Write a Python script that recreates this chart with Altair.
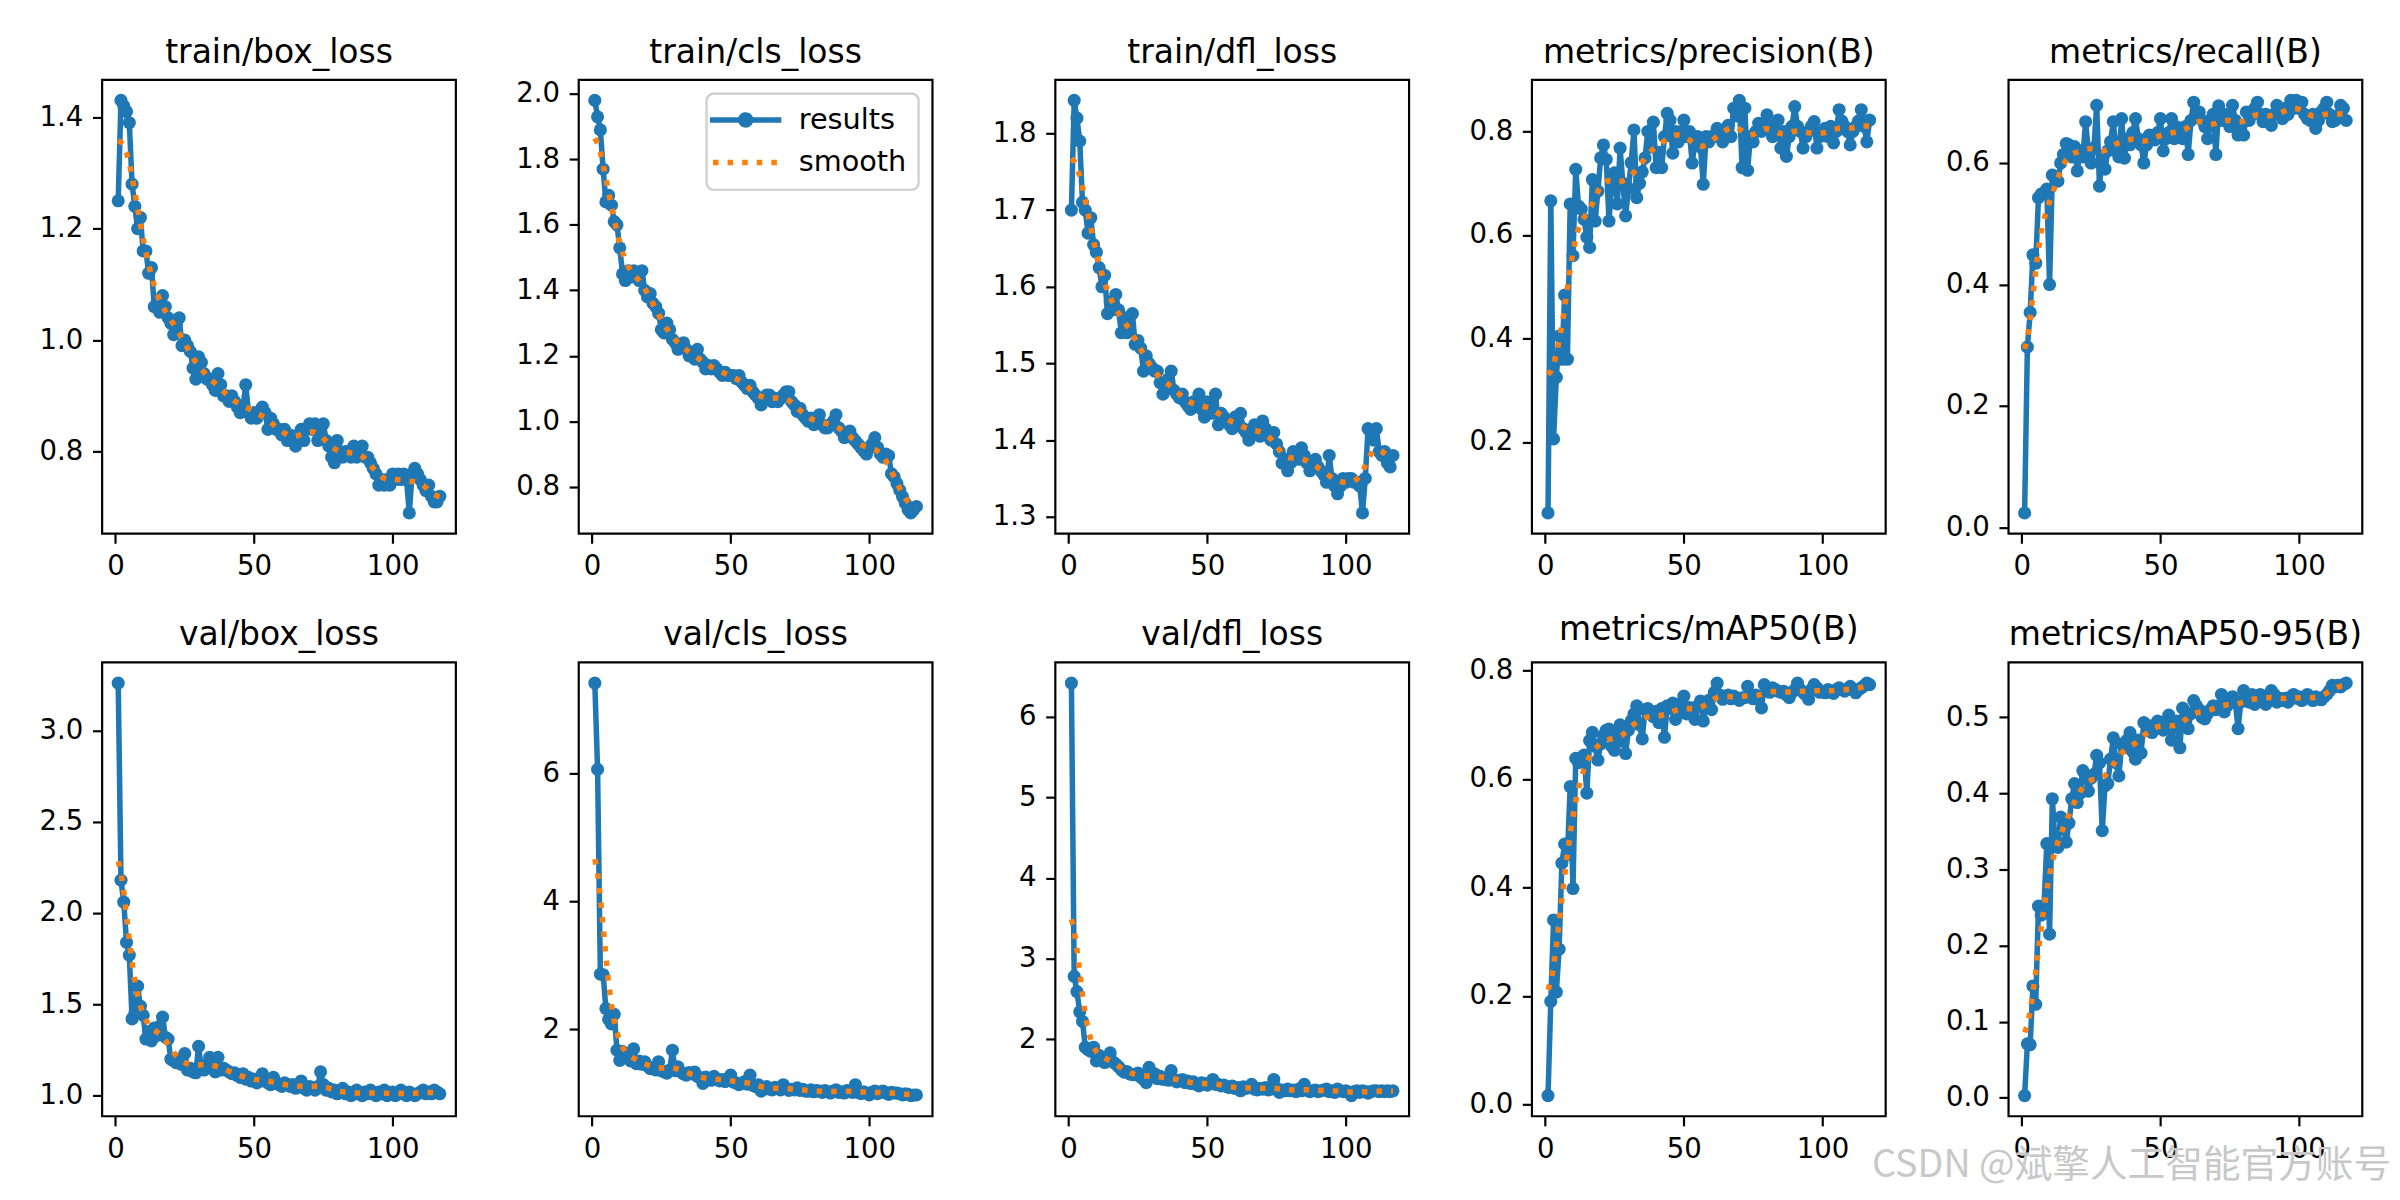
import altair as alt
import pandas as pd

EPOCHS = list(range(1, 118))

TITLES = ["train/box_loss", "train/cls_loss", "train/dfl_loss",
          "metrics/precision(B)", "metrics/recall(B)",
          "val/box_loss", "val/cls_loss", "val/dfl_loss",
          "metrics/mAP50(B)", "metrics/mAP50-95(B)"]

train_box_loss = [
    1.25, 1.43, 1.42, 1.41, 1.39, 1.28, 1.24, 1.20, 1.22, 1.16,
    1.16, 1.12, 1.13, 1.06, 1.06, 1.05, 1.08, 1.06, 1.04, 1.03,
    1.01, 1.03, 1.04, 0.99, 1.00, 0.99, 0.98, 0.95, 0.93, 0.97,
    0.96, 0.94, 0.93, 0.93, 0.92, 0.91, 0.94, 0.92, 0.90, 0.90,
    0.89, 0.90, 0.89, 0.88, 0.87, 0.88, 0.92, 0.87, 0.86, 0.87,
    0.86, 0.87, 0.88, 0.87, 0.84, 0.86, 0.85, 0.84, 0.84, 0.83,
    0.84, 0.82, 0.83, 0.82, 0.81, 0.83, 0.84, 0.82, 0.84, 0.85,
    0.84, 0.85, 0.82, 0.83, 0.85, 0.82, 0.81, 0.79, 0.78, 0.82,
    0.80, 0.79, 0.80, 0.80, 0.79, 0.81, 0.79, 0.80, 0.81, 0.79,
    0.79, 0.78, 0.77, 0.76, 0.74, 0.75, 0.74, 0.75, 0.74, 0.76,
    0.75, 0.76, 0.75, 0.76, 0.75, 0.69, 0.76, 0.77, 0.76, 0.75,
    0.74, 0.73, 0.74, 0.72, 0.71, 0.71, 0.72]

train_cls_loss = [
    1.98, 1.93, 1.89, 1.77, 1.67, 1.69, 1.66, 1.61, 1.60, 1.53,
    1.45, 1.43, 1.46, 1.44, 1.46, 1.45, 1.43, 1.46, 1.40, 1.38,
    1.39, 1.36, 1.35, 1.33, 1.28, 1.27, 1.30, 1.28, 1.25, 1.24,
    1.22, 1.23, 1.24, 1.22, 1.20, 1.20, 1.19, 1.22, 1.19, 1.18,
    1.16, 1.17, 1.16, 1.17, 1.16, 1.15, 1.14, 1.15, 1.14, 1.14,
    1.14, 1.13, 1.14, 1.12, 1.11, 1.10, 1.11, 1.09, 1.08, 1.07,
    1.05, 1.07, 1.08, 1.08, 1.06, 1.07, 1.06, 1.07, 1.08, 1.09,
    1.09, 1.06, 1.05, 1.03, 1.04, 1.02, 1.01, 1.00, 1.01, 0.99,
    1.00, 1.02, 0.99, 0.98, 0.98, 0.99, 1.00, 1.02, 0.98, 0.97,
    0.95, 0.96, 0.97, 0.95, 0.94, 0.93, 0.92, 0.91, 0.90, 0.92,
    0.93, 0.95, 0.92, 0.90, 0.89, 0.90, 0.895, 0.84, 0.83, 0.81,
    0.79, 0.77, 0.75, 0.73, 0.72, 0.73, 0.74]

train_dfl_loss = [
    1.70, 1.843, 1.82, 1.79, 1.71, 1.70, 1.67, 1.69, 1.655, 1.645,
    1.625, 1.60, 1.615, 1.565, 1.58, 1.57, 1.59, 1.57, 1.54, 1.56,
    1.54, 1.545, 1.565, 1.525, 1.53, 1.52, 1.49, 1.51, 1.50, 1.495,
    1.49, 1.49, 1.475, 1.46, 1.47, 1.48, 1.49, 1.465, 1.46, 1.455,
    1.46, 1.45, 1.445, 1.44, 1.45, 1.445, 1.46, 1.44, 1.43, 1.45,
    1.445, 1.435, 1.46, 1.42, 1.435, 1.43, 1.425, 1.42, 1.415, 1.43,
    1.42, 1.435, 1.415, 1.41, 1.40, 1.41, 1.42, 1.41, 1.405, 1.425,
    1.415, 1.405, 1.40, 1.41, 1.395, 1.385, 1.37, 1.375, 1.36, 1.37,
    1.385, 1.38, 1.375, 1.39, 1.38, 1.37, 1.36, 1.37, 1.375, 1.365,
    1.36, 1.355, 1.345, 1.38, 1.35, 1.34, 1.33, 1.34, 1.35, 1.345,
    1.35, 1.35, 1.345, 1.345, 1.34, 1.305, 1.35, 1.415, 1.41, 1.40,
    1.415, 1.385, 1.38, 1.385, 1.37, 1.365, 1.38]

precision = [
    0.063, 0.666, 0.206, 0.325, 0.405, 0.36, 0.484, 0.36, 0.66, 0.56,
    0.727, 0.656, 0.65, 0.63, 0.596, 0.576, 0.707, 0.627, 0.685, 0.749,
    0.774, 0.746, 0.627, 0.70, 0.72, 0.66, 0.768, 0.70, 0.637, 0.69,
    0.74, 0.803, 0.672, 0.70, 0.722, 0.749, 0.80, 0.77, 0.818, 0.73,
    0.76, 0.73, 0.79, 0.835, 0.822, 0.758, 0.80, 0.78, 0.80, 0.822,
    0.79, 0.80, 0.739, 0.78, 0.79, 0.77, 0.698, 0.79, 0.78, 0.79,
    0.79, 0.806, 0.79, 0.78, 0.80, 0.812, 0.79, 0.845, 0.83, 0.86,
    0.73, 0.845, 0.725, 0.79, 0.78, 0.80, 0.816, 0.80, 0.81, 0.832,
    0.81, 0.79, 0.80, 0.822, 0.768, 0.80, 0.752, 0.79, 0.81, 0.848,
    0.81, 0.80, 0.768, 0.79, 0.80, 0.81, 0.819, 0.768, 0.79, 0.80,
    0.806, 0.79, 0.81, 0.778, 0.80, 0.842, 0.82, 0.81, 0.80, 0.774,
    0.80, 0.81, 0.82, 0.842, 0.81, 0.78, 0.822]

recall = [
    0.024, 0.297, 0.354, 0.449, 0.435, 0.543, 0.549, 0.551, 0.557, 0.40,
    0.58, 0.575, 0.57, 0.60, 0.614, 0.632, 0.63, 0.61, 0.627, 0.587,
    0.62, 0.61, 0.668, 0.62, 0.60, 0.625, 0.695, 0.562, 0.61, 0.59,
    0.62, 0.635, 0.668, 0.62, 0.61, 0.673, 0.608, 0.64, 0.63, 0.65,
    0.673, 0.64, 0.63, 0.60, 0.63, 0.646, 0.64, 0.638, 0.65, 0.673,
    0.62, 0.64, 0.65, 0.673, 0.64, 0.659, 0.65, 0.64, 0.66, 0.614,
    0.67, 0.70, 0.68, 0.684, 0.67, 0.66, 0.64, 0.67, 0.68, 0.614,
    0.694, 0.67, 0.68, 0.673, 0.66, 0.695, 0.67, 0.646, 0.66, 0.646,
    0.684, 0.67, 0.68, 0.69, 0.70, 0.68, 0.668, 0.68, 0.67, 0.662,
    0.68, 0.695, 0.68, 0.673, 0.69, 0.68, 0.703, 0.69, 0.703, 0.69,
    0.70, 0.68, 0.673, 0.67, 0.68, 0.657, 0.67, 0.684, 0.69, 0.70,
    0.68, 0.668, 0.67, 0.678, 0.695, 0.69, 0.67]

val_box_loss = [
    3.26, 2.18, 2.06, 1.84, 1.77, 1.42, 1.45, 1.60, 1.49, 1.44,
    1.31, 1.35, 1.30, 1.37, 1.33, 1.38, 1.43, 1.32, 1.31, 1.20,
    1.19, 1.18, 1.20, 1.17, 1.23, 1.14, 1.15, 1.13, 1.125, 1.27,
    1.15, 1.14, 1.17, 1.21, 1.16, 1.13, 1.21, 1.14, 1.15, 1.14,
    1.13, 1.12, 1.125, 1.11, 1.10, 1.12, 1.09, 1.10, 1.08, 1.09,
    1.07, 1.08, 1.12, 1.08, 1.07, 1.06, 1.10, 1.07, 1.06, 1.05,
    1.07, 1.06, 1.05, 1.06, 1.04, 1.05, 1.08, 1.04, 1.03, 1.05,
    1.04, 1.03, 1.05, 1.13, 1.06, 1.03, 1.04, 1.02, 1.03, 1.01,
    1.02, 1.04, 1.01, 1.02, 1.00, 1.01, 1.03, 1.01, 1.00, 1.02,
    1.01, 1.03, 1.01, 1.00, 1.02, 1.01, 1.03, 1.00, 1.01, 1.02,
    1.00, 1.01, 1.03, 1.01, 1.00, 1.02, 1.01, 1.00, 1.01, 1.02,
    1.03, 1.01, 1.02, 1.01, 1.03, 1.02, 1.01]

val_cls_loss = [
    7.41, 6.06, 2.86, 2.85, 2.32, 2.15, 2.08, 2.23, 1.67, 1.51,
    1.65, 1.59, 1.55, 1.50, 1.69, 1.46, 1.50, 1.45, 1.49, 1.42,
    1.38, 1.40, 1.36, 1.49, 1.35, 1.33, 1.31, 1.36, 1.67, 1.35,
    1.41, 1.33, 1.30, 1.28, 1.32, 1.30, 1.33, 1.26, 1.24, 1.15,
    1.25, 1.22, 1.20, 1.26, 1.22, 1.19, 1.21, 1.18, 1.20, 1.28,
    1.17, 1.16, 1.13, 1.15, 1.18, 1.14, 1.28, 1.12, 1.10, 1.13,
    1.03, 1.08, 1.10, 1.06, 1.05, 1.09, 1.07, 1.05, 1.13, 1.07,
    1.04, 1.06, 1.05, 1.08, 1.04, 1.06, 1.03, 1.03, 1.05, 1.02,
    1.04, 1.03, 1.01, 1.04, 1.02, 1.00, 1.03, 1.05, 1.01, 1.02,
    1.00, 1.04, 1.02, 1.01, 1.13, 1.01, 0.99, 1.02, 1.00, 0.97,
    1.01, 1.03, 0.99, 1.02, 1.03, 1.00, 0.98, 1.01, 1.00, 1.00,
    0.99, 0.97, 0.99, 0.98, 0.96, 0.97, 0.97]

val_dfl_loss = [
    6.42, 2.78, 2.59, 2.34, 2.22, 1.90, 1.87, 1.85, 1.90, 1.73,
    1.80, 1.76, 1.71, 1.76, 1.83, 1.72, 1.69, 1.66, 1.62, 1.59,
    1.60, 1.57, 1.56, 1.56, 1.58, 1.53, 1.50, 1.46, 1.65, 1.55,
    1.57, 1.51, 1.54, 1.50, 1.52, 1.49, 1.61, 1.50, 1.47, 1.49,
    1.50, 1.46, 1.48, 1.45, 1.47, 1.44, 1.42, 1.46, 1.45, 1.43,
    1.45, 1.50, 1.44, 1.44, 1.42, 1.43, 1.41, 1.40, 1.42, 1.39,
    1.40, 1.36, 1.41, 1.39, 1.40, 1.44, 1.38, 1.37, 1.39, 1.38,
    1.40, 1.37, 1.38, 1.50, 1.39, 1.34, 1.37, 1.36, 1.38, 1.36,
    1.37, 1.35, 1.38, 1.36, 1.44, 1.37, 1.35, 1.36, 1.37, 1.35,
    1.36, 1.37, 1.38, 1.35, 1.36, 1.34, 1.38, 1.36, 1.35, 1.36,
    1.34, 1.30, 1.35, 1.36, 1.34, 1.36, 1.35, 1.33, 1.35, 1.36,
    1.36, 1.35, 1.36, 1.35, 1.36, 1.35, 1.36]

map50 = [
    0.016, 0.19, 0.34, 0.207, 0.286, 0.445, 0.48, 0.46, 0.586, 0.398,
    0.638, 0.63, 0.64, 0.644, 0.574, 0.671, 0.686, 0.66, 0.635, 0.665,
    0.68, 0.69, 0.692, 0.66, 0.653, 0.68, 0.70, 0.67, 0.647, 0.69,
    0.707, 0.72, 0.735, 0.70, 0.674, 0.728, 0.73, 0.72, 0.715, 0.725,
    0.704, 0.73, 0.677, 0.735, 0.73, 0.74, 0.71, 0.72, 0.74, 0.753,
    0.72, 0.732, 0.73, 0.71, 0.735, 0.744, 0.707, 0.74, 0.745, 0.728,
    0.76, 0.777, 0.755, 0.747, 0.75, 0.755, 0.748, 0.753, 0.75, 0.745,
    0.75, 0.75, 0.771, 0.755, 0.748, 0.755, 0.75, 0.731, 0.774, 0.765,
    0.76, 0.768, 0.765, 0.762, 0.76, 0.762, 0.755, 0.75, 0.76, 0.765,
    0.777, 0.765, 0.76, 0.755, 0.747, 0.765, 0.774, 0.768, 0.76, 0.762,
    0.759, 0.765, 0.76, 0.758, 0.765, 0.768, 0.765, 0.762, 0.765, 0.771,
    0.765, 0.759, 0.765, 0.768, 0.772, 0.777, 0.774]

map50_95 = [
    0.003, 0.071, 0.07, 0.147, 0.123, 0.252, 0.24, 0.252, 0.334, 0.215,
    0.393, 0.334, 0.329, 0.369, 0.355, 0.336, 0.361, 0.393, 0.413, 0.388,
    0.40, 0.43, 0.42, 0.403, 0.42, 0.425, 0.45, 0.44, 0.351, 0.41,
    0.413, 0.445, 0.473, 0.44, 0.423, 0.465, 0.46, 0.47, 0.48, 0.455,
    0.445, 0.47, 0.453, 0.493, 0.49, 0.485, 0.48, 0.49, 0.495, 0.488,
    0.483, 0.495, 0.503, 0.47, 0.49, 0.495, 0.46, 0.512, 0.50, 0.485,
    0.505, 0.522, 0.515, 0.51, 0.50, 0.498, 0.505, 0.51, 0.515, 0.51,
    0.515, 0.53, 0.507, 0.515, 0.52, 0.527, 0.52, 0.485, 0.52, 0.535,
    0.525, 0.52, 0.53, 0.517, 0.525, 0.53, 0.525, 0.517, 0.528, 0.535,
    0.53, 0.52, 0.525, 0.522, 0.525, 0.52, 0.527, 0.53, 0.525, 0.527,
    0.522, 0.525, 0.53, 0.525, 0.522, 0.527, 0.525, 0.523, 0.527, 0.53,
    0.535, 0.542, 0.54, 0.542, 0.54, 0.543, 0.545]

SERIES = [train_box_loss, train_cls_loss, train_dfl_loss, precision, recall,
          val_box_loss, val_cls_loss, val_dfl_loss, map50, map50_95]

Y_TICKS = [
    [0.8, 1.0, 1.2, 1.4],
    [0.8, 1.0, 1.2, 1.4, 1.6, 1.8, 2.0],
    [1.3, 1.4, 1.5, 1.6, 1.7, 1.8],
    [0.2, 0.4, 0.6, 0.8],
    [0.0, 0.2, 0.4, 0.6],
    [1.0, 1.5, 2.0, 2.5, 3.0],
    [2, 4, 6],
    [2, 3, 4, 5, 6],
    [0.0, 0.2, 0.4, 0.6, 0.8],
    [0.0, 0.1, 0.2, 0.3, 0.4, 0.5],
]
Y_FORMATS = [".1f", ".1f", ".1f", ".1f", ".1f", ".1f", "d", "d", ".1f", ".1f"]
X_TICKS = [0, 50, 100]
LEGEND_LABELS = ["results", "smooth"]
WATERMARK = "CSDN @斌擎人工智能官方账号"

BLUE = "#1f77b4"
ORANGE = "#ff7f0e"
LW = 5.56
DOTS = [5.56, 9.17]
N = len(EPOCHS)

# legend handles (symbol size 400 -> 10 px per path unit):
# a line with a dot in its middle, and a plain line (dotted by strokeDash)
P_RESULTS = ("M-2.3,0H4.9"
             "M1.8,0A0.5,0.5,0,1,1,0.8,0A0.5,0.5,0,1,1,1.8,0"
             "M1.45,0A0.15,0.15,0,1,1,1.15,0A0.15,0.15,0,1,1,1.45,0")
P_SMOOTH = "M-2.0,0H4.9"

for s in SERIES:
    assert len(s) == N, len(s)


def panel(title, values, ticks, fmt, with_legend=False):
    df = pd.DataFrame({"epoch": EPOCHS, "value": values})
    lo, hi = min(values), max(values)
    pad = 0.05 * (hi - lo)
    yscale = alt.Scale(domain=[lo - pad, hi + pad], nice=False, zero=False)
    xpad = 0.05 * (EPOCHS[-1] - EPOCHS[0])
    xscale = alt.Scale(domain=[EPOCHS[0] - xpad, EPOCHS[-1] + xpad], nice=False, zero=False)
    xaxis = alt.Axis(values=X_TICKS, format="d", title=None)
    yaxis = alt.Axis(values=ticks, format=fmt, title=None)
    x = alt.X("epoch:Q", scale=xscale, axis=xaxis)

    base = alt.Chart(df)
    line = base.mark_line(color=BLUE, strokeWidth=LW, strokeJoin="round").encode(
        x=x, y=alt.Y("value:Q", scale=yscale, axis=yaxis))
    pts = base.mark_circle(color=BLUE, size=175, opacity=1).encode(
        x=x, y=alt.Y("value:Q", scale=yscale, axis=yaxis))

    # smooth curve: gaussian filter (sigma 3, reflect at edges) done by Vega transforms
    lookup_src = alt.InlineData(values=df.to_dict("records"))
    last = EPOCHS[-1]
    smooth = (
        base.transform_calculate(offs="sequence(-12, 13)")
        .transform_flatten(["offs"])
        .transform_calculate(
            k="datum.epoch + datum.offs",
            w="exp(-datum.offs * datum.offs / 18)")
        .transform_calculate(
            j=f"datum.k < 1 ? 1 - datum.k : (datum.k > {last} ? {2 * last + 1} - datum.k : datum.k)")
        .transform_lookup(lookup="j",
                          from_=alt.LookupData(data=lookup_src, key="epoch", fields=["value"]),
                          as_=["nv"])
        .transform_calculate(wv="datum.w * datum.nv")
        .transform_aggregate(sw="sum(w)", swv="sum(wv)", groupby=["epoch"])
        .transform_calculate(smooth="datum.swv / datum.sw")
        .mark_line(color=ORANGE, strokeWidth=LW, strokeDash=DOTS, strokeCap="butt")
        .encode(x=x, y=alt.Y("smooth:Q", scale=yscale, axis=yaxis))
    )
    layers = [line, pts, smooth]
    if with_legend:
        leg = alt.Legend(title=None, orient="top-right", offset=14, padding=12,
                         strokeColor="#cccccc", fillColor="rgba(255,255,255,0.8)",
                         cornerRadius=7, labelFont="DejaVu Sans", labelFontSize=29,
                         labelColor="black", labelOffset=52, symbolSize=400,
                         symbolStrokeWidth=LW, rowPadding=12)
        legend_layer = (
            base.transform_filter("false")
            .transform_calculate(series="'results'")
            .mark_point(filled=False, size=400, strokeWidth=LW, opacity=1)
            .encode(
                x=x, y=alt.Y("value:Q", scale=yscale, axis=yaxis),
                color=alt.Color("series:N", scale=alt.Scale(domain=LEGEND_LABELS, range=[BLUE, ORANGE]), legend=leg),
                shape=alt.Shape("series:N", scale=alt.Scale(domain=LEGEND_LABELS, range=[P_RESULTS, P_SMOOTH]), legend=leg),
                strokeDash=alt.StrokeDash("series:N", scale=alt.Scale(domain=LEGEND_LABELS, range=[[1, 0], DOTS]), legend=leg),
            )
        )
        layers.append(legend_layer)
    return alt.layer(*layers).properties(width=357, height=458, title=title)


panels = [panel(TITLES[i], SERIES[i], Y_TICKS[i], Y_FORMATS[i], with_legend=(i == 1))
          for i in range(10)]

INDEP = dict(color="independent", shape="independent", strokeDash="independent")

row1 = alt.hconcat(*panels[:5], spacing=40).resolve_scale(**INDEP).resolve_legend(**INDEP)
row2 = alt.hconcat(*panels[5:], spacing=40).resolve_scale(**INDEP).resolve_legend(**INDEP)

chart = (
    alt.vconcat(row1, row2, spacing=28,
                title=alt.TitleParams(WATERMARK, orient="bottom", anchor="end",
                                      font="Noto Sans CJK SC", fontSize=38,
                                      fontWeight="normal", color="#c8c8c8",
                                      baseline="alphabetic", offset=12, dx=28))
    .resolve_scale(**INDEP).resolve_legend(**INDEP)
    .properties(padding={"left": 13, "top": 21, "right": 0, "bottom": 0}, background="white")
    .configure(font="DejaVu Sans")
    .configure_view(stroke="black", strokeWidth=2.2)
    .configure_axis(domain=False, grid=False, tickSize=9.7, tickWidth=2.2, tickColor="black",
                    labelFont="DejaVu Sans", labelFontSize=27.8, labelColor="black",
                    labelPadding=9.7, labelFlush=False, labelOverlap=False)
    .configure_axisX(minExtent=48, maxExtent=48)
    .configure_axisY(minExtent=80, maxExtent=80)
    .configure_title(font="DejaVu Sans", fontSize=33.3, fontWeight="normal", color="black",
                     baseline="alphabetic", offset=10, anchor="middle")
    .configure_legend(strokeWidth=2.2)
)

chart.save("out.html", embed_options={"renderer": "svg", "actions": False})
